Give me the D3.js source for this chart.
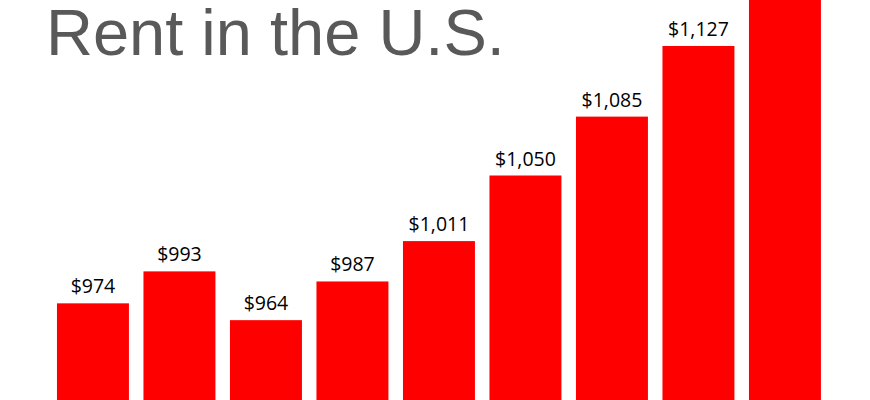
<!DOCTYPE html>
<html>
<head>
<meta charset="utf-8">
<script src="https://cdn.jsdelivr.net/npm/d3@7"></script>
<style>
  html, body { margin: 0; padding: 0; background: #ffffff; overflow: hidden; }
</style>
</head>
<body>
<div id="chart"></div>
<script>
const WIDTH = 870;
const HEIGHT = 400;

// chart data (last bar runs off the top of the picture, its value is a guess)
const years = ["2011", "2012", "2013", "2014", "2015", "2016", "2017", "2018", "2019"];
const rents = [974, 993, 964, 987, 1011, 1050, 1085, 1127, 1170];
const titleText = "Rent in the U.S.";

const x = d3
  .scaleBand()
  .domain(years)
  .range([49.7, 828.2])
  .paddingInner(0.168)
  .paddingOuter(0.084);

const y = d3.scaleLinear().domain([900, 1200]).range([427.8, -76.8]);

const fmt = (v) => "$" + d3.format(",")(v);

const svg = d3
  .select("#chart")
  .append("svg")
  .attr("width", WIDTH)
  .attr("height", HEIGHT)
  .attr("viewBox", `0 0 ${WIDTH} ${HEIGHT}`);

svg
  .append("text")
  .attr("x", 46)
  .attr("y", 55)
  .attr("font-family", "'Liberation Sans', Arial, sans-serif")
  .attr("font-size", 65)
  .attr("fill", "#595959")
  .text(titleText);

const data = years.map((year, i) => ({ year, value: rents[i] }));

const bars = svg
  .append("g")
  .selectAll("g.bar")
  .data(data)
  .join("g")
  .attr("class", "bar");

bars
  .append("rect")
  .attr("x", (d) => x(d.year))
  .attr("y", (d) => y(d.value))
  .attr("width", x.bandwidth())
  .attr("height", (d) => y(900) - y(d.value))
  .attr("fill", "#ff0000");

// the label of a bar that runs past the top is off the picture, so skip it
bars
  .filter((d) => y(d.value) - 10 > 20)
  .append("text")
  .attr("x", (d) => x(d.year) + x.bandwidth() / 2)
  .attr("y", (d) => y(d.value) - 10)
  .attr("text-anchor", "middle")
  .attr("font-family", "'Open Sans', 'Noto Sans', sans-serif")
  .attr("font-size", 19.5)
  .attr("fill", "#000000")
  .text((d) => fmt(d.value));
</script>
</body>
</html>
